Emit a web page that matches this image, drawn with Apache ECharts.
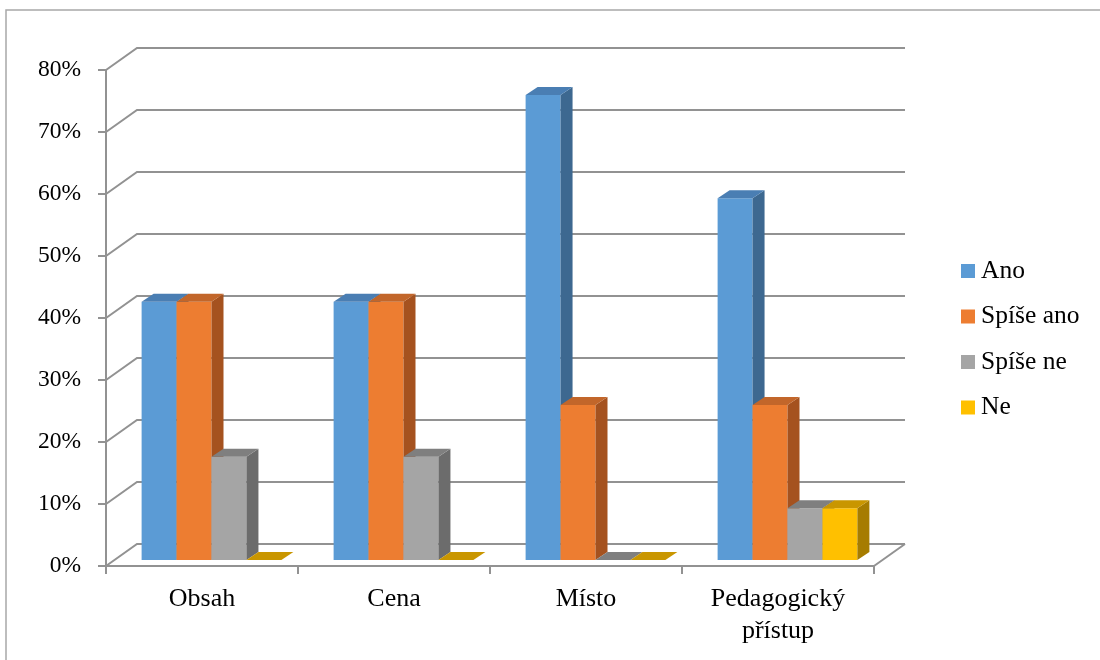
<!DOCTYPE html>
<html>
<head>
<meta charset="utf-8">
<script src="https://cdn.jsdelivr.net/npm/echarts@6/dist/echarts.min.js"></script>
<style>
  html, body { margin: 0; padding: 0; background: #fff; overflow: hidden; }
  #chart { width: 1100px; height: 660px; }
</style>
</head>
<body>
<div id="chart"></div>
<script>
// Survey answers per topic, in percent
const categories = ['Obsah', 'Cena', 'Místo', 'Pedagogický\npřístup'];
const seriesNames = ['Ano', 'Spíše ano', 'Spíše ne', 'Ne'];
const ano      = [41.67, 41.67, 75.00, 58.33];
const spiseAno = [41.67, 41.67, 25.00, 25.00];
const spiseNe  = [16.67, 16.67, 0.00, 8.33];
const ne       = [0.00, 0.00, 0.00, 8.33];
const yTicks   = [0, 10, 20, 30, 40, 50, 60, 70, 80];

const seriesValues = [ano, spiseAno, spiseNe, ne];
// face colours: front, top, side
const palette = [
  ['#5b9bd5', '#4a7eb3', '#3d6890'],
  ['#ed7d31', '#c2662a', '#a5521f'],
  ['#a5a5a5', '#7f7f7f', '#6c6c6c'],
  ['#ffc000', '#c99600', '#a67c00']
];

const FONT = "'Liberation Serif', 'Times New Roman', serif";
const LINE = '#929292';
const WALL_DX = 31, WALL_DY = 22;     // depth of the floor / back wall
const BAR_DX = 12, BAR_DY = 8;        // depth of a single bar
const BAR_SHIFT_X = 9.5, BAR_SHIFT_Y = 6; // bars stand part-way into the floor
const BAR_FRAC = 0.182;               // bar width as share of a category band

// floor, side wall and back wall gridlines
function frameItem(params, api) {
  const v = api.value(0);
  const band = api.size([1, 0])[0];
  const left = api.coord([0, v])[0] - band / 2;
  const right = api.coord([categories.length - 1, v])[0] + band / 2;
  const y = api.coord([0, v])[1];
  const children = [{
    type: 'polyline',
    shape: { points: [[left, y], [left + WALL_DX, y - WALL_DY], [right + WALL_DX, y - WALL_DY]] },
    style: { stroke: LINE, lineWidth: 2, fill: null }
  }];
  if (v === 0) {
    children.push({
      type: 'line',
      shape: { x1: right, y1: y, x2: right + WALL_DX, y2: y - WALL_DY },
      style: { stroke: LINE, lineWidth: 2 }
    });
  }
  return { type: 'group', children };
}

function barItem(k) {
  const [front, top, side] = palette[k];
  return function (params, api) {
    const ci = api.value(0);
    const v = api.value(1);
    const base = api.coord([ci, 0]);
    const peak = api.coord([ci, v]);
    const band = api.size([1, 0])[0];
    const bw = band * BAR_FRAC;
    const x0 = base[0] + BAR_SHIFT_X - 2 * bw + k * bw;
    const yb = base[1] - BAR_SHIFT_Y;
    const yt = peak[1] - BAR_SHIFT_Y;
    return {
      type: 'group',
      children: [
        { type: 'rect', shape: { x: x0, y: yt, width: bw, height: yb - yt },
          style: { fill: front } },
        { type: 'polygon', shape: { points: [[x0 + bw, yt], [x0 + bw + BAR_DX, yt - BAR_DY], [x0 + bw + BAR_DX, yb - BAR_DY], [x0 + bw, yb]] },
          style: { fill: side } },
        { type: 'polygon', shape: { points: [[x0, yt], [x0 + bw, yt], [x0 + bw + BAR_DX, yt - BAR_DY], [x0 + BAR_DX, yt - BAR_DY]] },
          style: { fill: top } }
      ]
    };
  };
}

const chart = echarts.init(document.getElementById('chart'), null, { renderer: 'canvas' });

const barSeries = seriesNames.map((name, k) => ({
  name,
  type: 'custom',
  z: 3,
  itemStyle: { color: palette[k][0] },
  renderItem: barItem(k),
  encode: { x: 0, y: 1 },
  data: seriesValues[k].map((v, i) => [i, v])
}));

chart.setOption({
  animation: false,
  backgroundColor: '#fff',
  graphic: [{
    type: 'rect', silent: true, z: -10,
    shape: { x: 6, y: 10, width: 2000, height: 1000 },
    style: { fill: null, stroke: '#a8a8a8', lineWidth: 1.5 }
  }],
  grid: { left: 106, right: 226, top: 70, bottom: 94 },
  legend: {
    orient: 'vertical',
    left: 961,
    top: 258,
    padding: 0,
    icon: 'rect',
    itemWidth: 14,
    itemHeight: 14,
    itemGap: 19.5,
    data: seriesNames,
    selectedMode: false,
    textStyle: { fontFamily: FONT, fontSize: 25.5, color: '#000', lineHeight: 26, padding: [0, 0, 0, 1] }
  },
  xAxis: {
    type: 'category',
    data: categories,
    axisLine: { show: true, lineStyle: { color: LINE, width: 2 } },
    axisTick: { show: true, length: 8, interval: 0, lineStyle: { color: LINE, width: 2 } },
    axisLabel: { margin: 17, fontFamily: FONT, fontSize: 26, lineHeight: 32, color: '#000', interval: 0 },
    splitLine: { show: false }
  },
  yAxis: {
    type: 'value',
    min: 0, max: 80, interval: 10,
    axisLine: { show: true, lineStyle: { color: LINE, width: 2 } },
    axisTick: { show: true, length: 8, lineStyle: { color: LINE, width: 2 } },
    axisLabel: { margin: 25, formatter: '{value}%', fontFamily: FONT, fontSize: 23.5, color: '#000' },
    splitLine: { show: false }
  },
  series: [{
    type: 'custom',
    z: 1,
    silent: true,
    renderItem: frameItem,
    encode: { y: 0 },
    data: yTicks.map(v => [v])
  }].concat(barSeries)
});
</script>
</body>
</html>
